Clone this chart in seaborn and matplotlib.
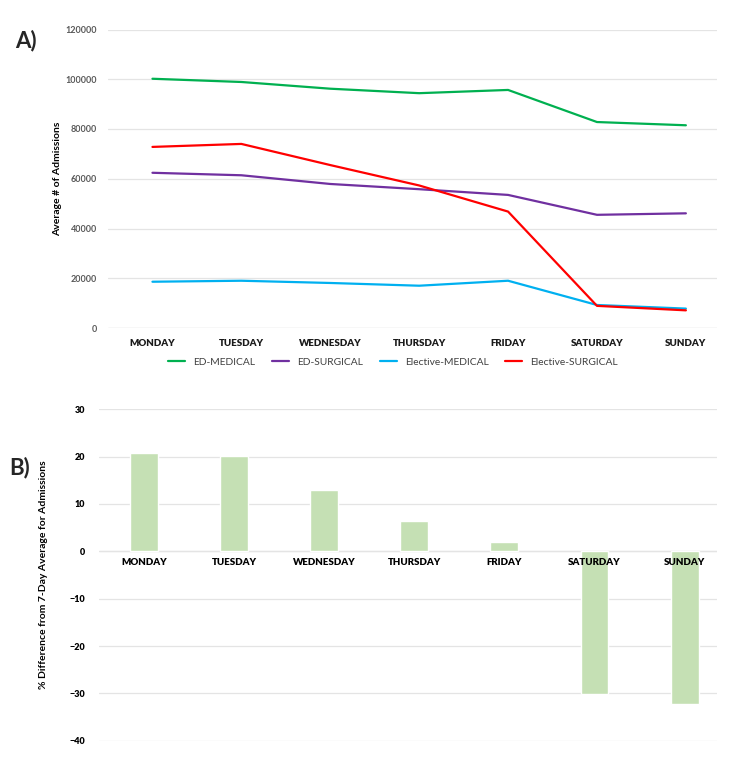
import matplotlib
matplotlib.use("Agg")
import matplotlib.pyplot as plt
import seaborn as sns
import pandas as pd

days = ["MONDAY", "TUESDAY", "WEDNESDAY", "THURSDAY", "FRIDAY", "SATURDAY", "SUNDAY"]
ed_medical = [100200, 98900, 96200, 94400, 95700, 82800, 81500]
ed_surgical = [62400, 61400, 57900, 55800, 53500, 45500, 46100]
elective_medical = [18600, 19000, 18100, 17000, 19000, 9250, 7800]
elective_surgical = [72800, 74000, 65500, 57300, 46800, 8900, 7100]
series_names = ["ED-MEDICAL", "ED-SURGICAL", "Elective-MEDICAL", "Elective-SURGICAL"]
series_colors = ["#00B050", "#7030A0", "#00B0F0", "#FF0000"]
pct_diff = [20.8, 20.1, 12.9, 6.5, 2.0, -30.1, -32.2]

sns.set_theme(style="white")
plt.rcParams["font.family"] = ["Lato", "DejaVu Sans"]

W, H = 750, 761
fig = plt.figure(figsize=(W / 100, H / 100), dpi=100)

def rect(l, t, r, b):
    return [l / W, 1 - b / H, (r - l) / W, (b - t) / H]

# ---- Panel A ----
ax1 = fig.add_axes(rect(108, 29.5, 717, 328))
rows = []
for name, vals in zip(series_names, [ed_medical, ed_surgical, elective_medical, elective_surgical]):
    for d, v in zip(days, vals):
        rows.append({"day": d, "value": v, "series": name})
df = pd.DataFrame(rows)
sns.lineplot(data=df, x="day", y="value", hue="series", palette=dict(zip(series_names, series_colors)),
             sort=False, linewidth=1.6, ax=ax1, legend=True)
ax1.set_xlim(-0.5, 6.35)
ax1.set_ylim(0, 120000)
ax1.set_yticks(range(0, 120001, 20000))
ax1.yaxis.grid(True, color="#E4E4E4", linewidth=0.9)
ax1.set_axisbelow(True)
for s in ax1.spines.values():
    s.set_visible(False)
ax1.axhline(0, color="#D9D9D9", linewidth=0.9, zorder=0.5)
ax1.tick_params(axis="y", length=0, pad=8, labelsize=6.5, labelcolor="#595959")
ax1.tick_params(axis="x", length=0, pad=8, labelsize=7, labelcolor="#1a1a1a")
for lab in ax1.get_yticklabels():
    lab.set_fontweight("bold")
for lab in ax1.get_xticklabels():
    lab.set_fontweight("heavy")
ax1.set_xlabel("")
ax1.set_ylabel("Average # of Admissions", fontsize=7.5, fontweight="bold", color="black")
ax1.yaxis.set_label_coords((62 - 108) / 609, 0.5)
handles, labels = ax1.get_legend_handles_labels()
ax1.legend_.remove()
leg = fig.legend(handles, labels, loc="center", bbox_to_anchor=(393 / W, 1 - 362 / H), ncol=4,
                 frameon=False, fontsize=7.4, handlelength=1.65, columnspacing=1.65, handletextpad=0.78)
for t in leg.get_texts():
    t.set_color("#404040")

fig.text(26 / W, 1 - 41 / H, "A)", fontsize=16, fontweight="bold", ha="center", va="center")

# ---- Panel B ----
ax2 = fig.add_axes(rect(99, 409.3, 717, 740.7))
dfb = pd.DataFrame({"day": days, "pct": pct_diff})
sns.barplot(data=dfb, x="day", y="pct", color="#C5E0B4", saturation=1, width=0.31, ax=ax2)
ax2.set_xlim(-0.5, 6.36)
ax2.set_ylim(-40, 30)
ax2.set_yticks(range(-40, 31, 10))
ax2.yaxis.grid(True, color="#E4E4E4", linewidth=0.9)
ax2.set_axisbelow(True)
for s in ax2.spines.values():
    s.set_visible(False)
ax2.spines["bottom"].set_position(("data", 0))
ax2.axhline(0, color="#D9D9D9", linewidth=0.9, zorder=0.5)
ax2.tick_params(axis="y", length=0, pad=10, labelsize=6.5, labelcolor="black")
ax2.tick_params(axis="x", length=0, pad=5, labelsize=7, labelcolor="black")
for lab in ax2.get_yticklabels():
    lab.set_fontweight("heavy")
for lab in ax2.get_xticklabels():
    lab.set_fontweight("heavy")
ax2.xaxis.set_zorder(3)
ax2.set_xlabel("")
ax2.set_ylabel("% Difference from 7-Day Average for Admissions", fontsize=7.5, fontweight="bold",
               color="black")
ax2.yaxis.set_label_coords((48 - 99) / 618, 0.5)

fig.text(20 / W, 1 - 468 / H, "B)", fontsize=16, fontweight="bold", ha="center", va="center")

fig.savefig("out.png", dpi=100)
